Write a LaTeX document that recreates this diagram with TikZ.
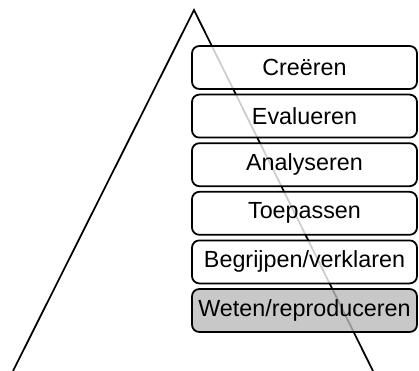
\documentclass[tikz,border=0pt]{standalone}
\usepackage{fontspec}
\setmainfont{Liberation Sans}
\usepackage{tikz}
\usetikzlibrary{positioning,calc}

\tikzset{
  level/.style={draw=black, line width=1.35pt, rounded corners=5.5pt, fill=white,
    fill opacity=0.8, text opacity=1, minimum width=168.75pt, minimum height=32.25pt,
    font=\fontsize{17.5}{20}\selectfont},
  base/.style={level, fill={rgb,255:red,186;green,186;blue,186}},
  leg/.style={line width=1.3pt}
}

\begin{document}
\begin{tikzpicture}[x=0.75pt, y=-0.75pt]
\useasboundingbox (0,0) rectangle (419,371);

% Pyramid outline
\coordinate (apex) at (194,10);
\coordinate (leftfoot) at (13,371);
\coordinate (rightfoot) at (373,371);
\draw[leg] (leftfoot) -- (apex) -- (rightfoot);

% Levels of the taxonomy (top to bottom)
\foreach \i/\txt in {0/Creëren, 1/Evalueren, 2/Analyseren, 3/Toepassen, 4/Begrijpen\slash verklaren} {
    \node[level] (l\i) at (304.5, 67.5+\i*48.6) {\txt};
}
\node[base] (l5) at (304.5, 310.5) {Weten/reproduceren};

\end{tikzpicture}
\end{document}
